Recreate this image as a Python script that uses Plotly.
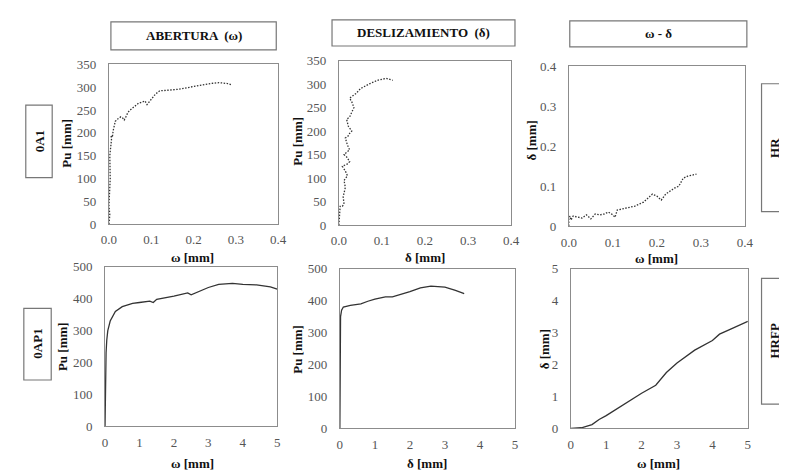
import plotly.graph_objects as go

W, H = 787, 471

# ---- data ----
omega_a1 = [0, 0.001, 0.002, 0.0, 0.001, 0.003, 0.002, 0.004, 0.006, 0.005, 0.008, 0.01, 0.012, 0.015,
            0.02, 0.028, 0.033, 0.036, 0.04, 0.045, 0.05, 0.06, 0.07, 0.08, 0.085, 0.09, 0.095, 0.1,
            0.11, 0.12, 0.14, 0.16, 0.18, 0.2, 0.22, 0.24, 0.26, 0.28, 0.29]
pu_a1_w = [0, 10, 20, 40, 60, 100, 150, 170, 185, 195, 190, 205, 215, 225, 230, 235, 232, 228, 235,
           245, 250, 258, 265, 268, 270, 262, 268, 272, 285, 292, 293, 295, 298, 302, 305, 308, 310, 308, 305]

delta_a1 = [0, 0.002, 0.004, 0.003, 0.008, 0.012, 0.01, 0.015, 0.012, 0.02, 0.015, 0.008, 0.015, 0.02,
            0.025, 0.018, 0.012, 0.02, 0.025, 0.02, 0.015, 0.022, 0.025, 0.03, 0.022, 0.018, 0.025,
            0.03, 0.035, 0.03, 0.025, 0.04, 0.05, 0.07, 0.09, 0.11, 0.125]
pu_a1_d = [0, 20, 35, 40, 40, 45, 60, 80, 95, 105, 115, 125, 128, 130, 135, 145, 150, 155, 160, 170,
           185, 190, 195, 200, 210, 225, 230, 240, 250, 262, 270, 280, 290, 300, 308, 312, 308]

omega_a1_wd = [0, 0.0, 0.003, 0.005, 0.01, 0.02, 0.03, 0.04, 0.05, 0.06, 0.07, 0.08, 0.09, 0.1, 0.105,
               0.11, 0.13, 0.15, 0.17, 0.19, 0.2, 0.21, 0.22, 0.24, 0.25, 0.26, 0.27, 0.29]
delta_a1_wd = [0, 0.02, 0.025, 0.015, 0.025, 0.022, 0.02, 0.028, 0.018, 0.03, 0.028, 0.03, 0.035, 0.028,
               0.022, 0.04, 0.045, 0.05, 0.06, 0.08, 0.075, 0.065, 0.08, 0.095, 0.1, 0.12, 0.125, 0.13]

omega_ap1 = [0, 0.01, 0.03, 0.05, 0.08, 0.15, 0.3, 0.5, 0.8, 1.0, 1.3, 1.4, 1.5, 2.0, 2.4, 2.5, 3.0,
             3.3, 3.7, 4.0, 4.4, 4.8, 5.0]
pu_ap1_w = [0, 100, 230, 270, 300, 330, 360, 375, 385, 388, 392, 388, 398, 408, 418, 412, 435, 445,
            448, 445, 443, 437, 430]

delta_ap1 = [0, 0.01, 0.02, 0.05, 0.1, 0.3, 0.6, 0.8, 1.0, 1.3, 1.5, 2.0, 2.3, 2.6, 3.0, 3.3, 3.55]
pu_ap1_d = [0, 130, 350, 370, 380, 385, 390, 398, 405, 412, 412, 428, 440, 445, 442, 432, 422]

omega_ap1_wd = [0, 0.3, 0.6, 0.8, 1.0, 1.5, 2.0, 2.4, 2.7, 3.0, 3.5, 4.0, 4.2, 4.5, 5.0]
delta_ap1_wd = [0, 0.02, 0.12, 0.28, 0.4, 0.75, 1.1, 1.35, 1.75, 2.05, 2.45, 2.75, 2.95, 3.1, 3.35]

col_headers = ["ABERTURA  (ω)", "DESLIZAMIENTO  (δ)", "ω - δ"]
row_left = ["0A1", "0AP1"]
row_right = ["HR", "HRFP"]

# ---- layout helpers ----
def px(x):
    return x / W

def py(y):
    return 1 - y / H

FONT = "Liberation Serif"
TICKC = "#555555"
LINEC = "#8c8c8c"
DOT = "1.5px,1.5px"

panels = [
    (95, 268, 51, 216, omega_a1, pu_a1_w, [0, 0.4], [0, 350], 0.1, 50, DOT, ".1f", 3),
    (330, 506, 47, 217, delta_a1, pu_a1_d, [0, 0.4], [0, 350], 0.1, 50, DOT, ".1f", 3),
    (565, 745, 53, 218, omega_a1_wd, delta_a1_wd, [0, 0.4], [0, 0.4], 0.1, 0.1, DOT, ".1f", 4),
    (91, 267, 260, 425, omega_ap1, pu_ap1_w, [0, 5], [0, 500], 1, 100, "solid", "", 4),
    (331, 510, 262, 427, delta_ap1, pu_ap1_d, [0, 5], [0, 500], 1, 100, "solid", "", 4),
    (567, 748, 262, 427, omega_ap1_wd, delta_ap1_wd, [0, 5], [0, 5], 1, 1, "solid", "", 4),
]

fig = go.Figure()
layout = {}
for i, (x0, x1, yt, yb, xs, ys, xr, yr, dx, dy, dash, xfmt, xso) in enumerate(panels, start=1):
    xa = "xaxis" if i == 1 else f"xaxis{i}"
    ya = "yaxis" if i == 1 else f"yaxis{i}"
    xref = "x" if i == 1 else f"x{i}"
    yref = "y" if i == 1 else f"y{i}"
    fig.add_trace(go.Scatter(x=xs, y=ys, mode="lines", xaxis=xref, yaxis=yref,
                             line=dict(color="#333333", width=1.3, dash=dash), showlegend=False))
    common = dict(showline=True, linecolor=LINEC, linewidth=1, mirror=True, showgrid=False,
                  zeroline=False, ticks="", tickfont=dict(family=FONT, size=13, color=TICKC))
    layout[xa] = dict(domain=[px(x0), px(x1)], range=xr, dtick=dx, tick0=0, anchor=yref,
                      tickformat=xfmt, ticklabelstandoff=xso, **common)
    if i == 3:
        layout[ya] = dict(domain=[py(yb), py(yt)], range=yr, anchor=xref, ticklabelstandoff=9,
                          tickvals=[0, 0.1, 0.2, 0.3, 0.4], ticktext=["0", "0.1", "0.2", "0.3", "0.4"],
                          **common)
    else:
        layout[ya] = dict(domain=[py(yb), py(yt)], range=yr, dtick=dy, tick0=0, anchor=xref,
                          ticklabelstandoff=9, **common)

fig.update_layout(width=W, height=H, margin=dict(l=0, r=0, t=0, b=0),
                  paper_bgcolor="white", plot_bgcolor="white", **layout)

def ann(text, x, y, angle=0, size=13):
    fig.add_annotation(text=text, x=px(x), y=py(y), xref="paper", yref="paper", showarrow=False,
                       textangle=angle, font=dict(family=FONT, size=size, color="#111111"),
                       xanchor="center", yanchor="middle")

def box(x0, y0, x1, y1):
    fig.add_shape(type="rect", xref="paper", yref="paper", x0=px(x0), x1=px(x1), y0=py(y1), y1=py(y0),
                  line=dict(color="#777777", width=1.2), fillcolor="rgba(0,0,0,0)")

# column headers
hb = [(97, 7, 266, 36), (323, 5, 510, 32), (566, 6, 747, 33)]
for (a, b, c, d), t in zip(hb, col_headers):
    box(a, b, c, d)
    ann(f"<b>{t}</b>", (a + c) / 2, (b + d) / 2, size=13)

# left row labels
lb = [(10, 93, 37, 168), (8, 303, 36, 377)]
for (a, b, c, d), t in zip(lb, row_left):
    box(a, b, c, d)
    ann(f"<b>{t}</b>", (a + c) / 2, (b + d) / 2, angle=-90, size=13)

# right row labels
rb = [(762, 71, 800, 203), (762, 272, 800, 402)]
for (a, b, c, d), t in zip(rb, row_right):
    box(a, b, c, d)
    ann(f"<b>{t}</b>", 775, (b + d) / 2, angle=-90, size=13)

# axis titles
ann("<b>Pu [mm]</b>", 52, 132, angle=-90)
ann("<b>ω [mm]</b>", 180, 250)
ann("<b>Pu [mm]</b>", 288, 130, angle=-90)
ann("<b>δ [mm]</b>", 418, 250)
ann("<b>δ [mm]</b>", 527, 130, angle=-90)
ann("<b>ω [mm]</b>", 655, 252)
ann("<b>Pu [mm]</b>", 47, 342, angle=-90)
ann("<b>ω [mm]</b>", 180, 463)
ann("<b>Pu [mm]</b>", 287, 345, angle=-90)
ann("<b>δ [mm]</b>", 420, 463)
ann("<b>δ [mm]</b>", 540, 345, angle=-90)
ann("<b>ω [mm]</b>", 657, 463)

fig.write_html("out.html")
